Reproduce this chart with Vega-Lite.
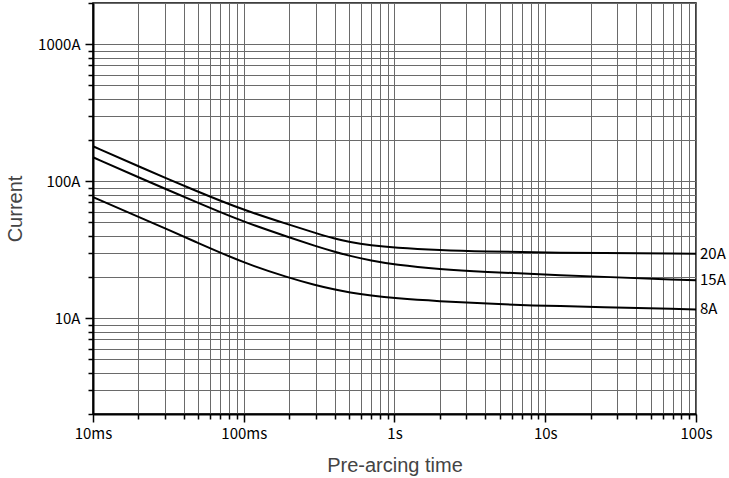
{
  "$schema": "https://vega.github.io/schema/vega-lite/v6.json",
  "autosize": "none",
  "width": 603,
  "height": 411,
  "padding": {"left": 93, "top": 3, "right": 33, "bottom": 64},
  "data": {
    "values": [
      {"series": "20A", "t": 0.01, "current": 180},
      {"series": "20A", "t": 0.02, "current": 128.6},
      {"series": "20A", "t": 0.05, "current": 83.4},
      {"series": "20A", "t": 0.1, "current": 61.5},
      {"series": "20A", "t": 0.2, "current": 48.2},
      {"series": "20A", "t": 0.3, "current": 41.8},
      {"series": "20A", "t": 0.4, "current": 38.1},
      {"series": "20A", "t": 0.5, "current": 36.0},
      {"series": "20A", "t": 0.7, "current": 34.0},
      {"series": "20A", "t": 1, "current": 32.7},
      {"series": "20A", "t": 2, "current": 31.4},
      {"series": "20A", "t": 4, "current": 30.7},
      {"series": "20A", "t": 10, "current": 30.1},
      {"series": "20A", "t": 100, "current": 29.6},
      {"series": "15A", "t": 0.01, "current": 149.6},
      {"series": "15A", "t": 0.02, "current": 106.9},
      {"series": "15A", "t": 0.05, "current": 69.4},
      {"series": "15A", "t": 0.1, "current": 50.4},
      {"series": "15A", "t": 0.2, "current": 39.0},
      {"series": "15A", "t": 0.3, "current": 33.6},
      {"series": "15A", "t": 0.4, "current": 30.6},
      {"series": "15A", "t": 0.5, "current": 28.6},
      {"series": "15A", "t": 0.7, "current": 26.3},
      {"series": "15A", "t": 1, "current": 24.6},
      {"series": "15A", "t": 2, "current": 22.8},
      {"series": "15A", "t": 4, "current": 21.8},
      {"series": "15A", "t": 10, "current": 20.8},
      {"series": "15A", "t": 100, "current": 18.9},
      {"series": "8A", "t": 0.01, "current": 76.5},
      {"series": "8A", "t": 0.02, "current": 55.1},
      {"series": "8A", "t": 0.05, "current": 35.4},
      {"series": "8A", "t": 0.1, "current": 25.3},
      {"series": "8A", "t": 0.2, "current": 19.7},
      {"series": "8A", "t": 0.3, "current": 17.4},
      {"series": "8A", "t": 0.4, "current": 16.2},
      {"series": "8A", "t": 0.5, "current": 15.4},
      {"series": "8A", "t": 0.7, "current": 14.6},
      {"series": "8A", "t": 1, "current": 14.0},
      {"series": "8A", "t": 2, "current": 13.3},
      {"series": "8A", "t": 4, "current": 12.8},
      {"series": "8A", "t": 10, "current": 12.3},
      {"series": "8A", "t": 100, "current": 11.6}
    ]
  },
  "encoding": {
    "x": {
      "field": "t",
      "type": "quantitative",
      "scale": {"type": "log", "domain": [0.01, 100], "nice": false},
      "axis": {
        "title": "Pre-arcing time",
        "values": [0.01, 0.02, 0.03, 0.04, 0.05, 0.06, 0.07, 0.08, 0.09, 0.1, 0.2, 0.3, 0.4, 0.5, 0.6, 0.7, 0.8, 0.9, 1, 2, 3, 4, 5, 6, 7, 8, 9, 10, 20, 30, 40, 50, 60, 70, 80, 90, 100],
        "labelExpr": "datum.value == 0.01 ? '10ms' : datum.value == 0.1 ? '100ms' : datum.value == 1 ? '1s' : datum.value == 10 ? '10s' : datum.value == 100 ? '100s' : ''",
        "tickSize": {"condition": {"test": "indexof([0.01, 0.1, 1, 10, 100], datum.value) >= 0", "value": 8}, "value": 5},
        "labelPadding": 4,
        "titlePadding": 14
      }
    },
    "y": {
      "field": "current",
      "type": "quantitative",
      "scale": {"type": "log", "domain": [2, 2000], "nice": false},
      "axis": {
        "title": "Current",
        "values": [2, 3, 4, 5, 6, 7, 8, 9, 10, 20, 30, 40, 50, 60, 70, 80, 90, 100, 200, 300, 400, 500, 600, 700, 800, 900, 1000, 2000],
        "labelExpr": "datum.value == 10 ? '10A' : datum.value == 100 ? '100A' : datum.value == 1000 ? '1000A' : ''",
        "tickSize": {"condition": {"test": "indexof([10, 100, 1000], datum.value) >= 0", "value": 8}, "value": 5},
        "labelPadding": 5,
        "titlePadding": 12
      }
    }
  },
  "layer": [
    {
      "mark": {"type": "line", "interpolate": "basis", "color": "#000", "strokeWidth": 2},
      "encoding": {"detail": {"field": "series", "type": "nominal"}}
    },
    {
      "transform": [{"filter": "datum.t == 100"}],
      "mark": {"type": "text", "align": "left", "baseline": "middle", "dx": 4, "font": "Noto Sans CJK JP", "fontSize": 15, "color": "#000"},
      "encoding": {"text": {"field": "series", "type": "nominal"}}
    }
  ],
  "config": {
    "background": "white",
    "view": {"stroke": "#000", "strokeWidth": 1.5},
    "axis": {
      "grid": true,
      "gridColor": "#6a6a6a",
      "gridWidth": 1,
      "gridOpacity": 1,
      "domainColor": "#000",
      "domainWidth": 2,
      "tickColor": "#000",
      "tickWidth": 1.5,
      "labelFont": "Noto Sans CJK JP",
      "labelFontSize": 15,
      "labelColor": "#000",
      "labelAngle": 0,
      "labelOverlap": false,
      "labelFlush": false,
      "labelBound": false,
      "titleFont": "Liberation Sans",
      "titleFontSize": 20,
      "titleFontWeight": "normal",
      "titleColor": "#444"
    }
  }
}
